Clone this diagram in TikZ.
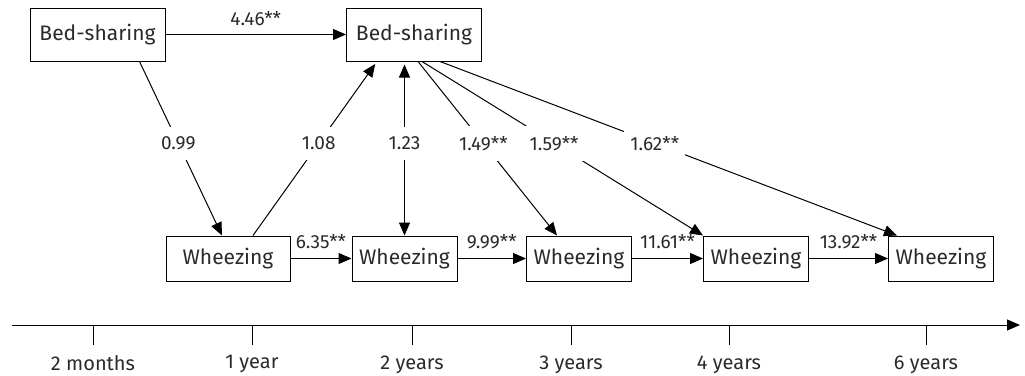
\documentclass[tikz,border=0pt]{standalone}
\usepackage{fontspec}
\setmainfont{Fira Sans}
\usetikzlibrary{arrows.meta}

\definecolor{inkgray}{HTML}{2A2A2A}

\tikzset{
    box/.style={draw, line width=1pt, inner sep=0pt, text=inkgray, font=\fontsize{21}{24}\selectfont},
    link/.style={line width=1pt, -{Triangle[length=13pt,width=11pt]}},
    coef/.style={fill=white, inner xsep=6pt, inner ysep=10pt, text=inkgray, font=\fontsize{19}{22}\selectfont},
    steplabel/.style={inner sep=1pt, text=inkgray, font=\fontsize{19}{22}\selectfont},
    agelabel/.style={inner sep=1pt, text=inkgray, font=\fontsize{20}{23}\selectfont},
}

\begin{document}
\begin{tikzpicture}[x=1pt,y=-1pt]
    \useasboundingbox (0,0) rectangle (1025,375);

    \node [box, minimum width=135pt, minimum height=53pt] (bed1) at (97.5,34.5) {Bed-sharing};
    \node [box, minimum width=135pt, minimum height=53pt] (bed2) at (414,34.5) {Bed-sharing};

    \node [box, minimum width=124pt, minimum height=45pt] (wh1) at (228,258.5) {Wheezing};
    \node [box, minimum width=105pt, minimum height=45pt] (wh2) at (404.5,258.5) {Wheezing};
    \node [box, minimum width=105pt, minimum height=45pt] (wh3) at (579,258.5) {Wheezing};
    \node [box, minimum width=105pt, minimum height=45pt] (wh4) at (756,258.5) {Wheezing};
    \node [box, minimum width=105pt, minimum height=45pt] (wh5) at (941,258.5) {Wheezing};

    \draw [link]
        (bed1)
        --
            node [steplabel, above=7pt] {4.46**}
        (bed2)
        ;

    \draw [link]
        ([xshift=42pt]bed1.south)
        --
            node [coef, pos=0.47] {0.99}
        ([xshift=-6pt]wh1.north)
        ;

    \draw [link, shorten >=3pt]
        ([xshift=25pt]wh1.north)
        --
            node [coef, pos=0.53] {1.08}
        ([xshift=-37pt]bed2.south)
        ;

    \draw [link, {Triangle[length=13pt,width=11pt]}-{Triangle[length=13pt,width=11pt]}, shorten <=3pt]
        (wh2.north |- bed2.south)
        --
            node [coef, pos=0.47] {1.23}
        (wh2.north)
        ;

    \draw [link]
        ([xshift=4pt]bed2.south)
        --
            node [coef, pos=0.47] {1.49**}
        ([xshift=-22pt]wh3.north)
        ;

    \draw [link]
        ([xshift=8pt]bed2.south)
        --
            node [coef, pos=0.47] {1.59**}
        (wh4.north west)
        ;

    \draw [link]
        ([xshift=26pt]bed2.south)
        --
            node [coef, pos=0.47] {1.62**}
        ([xshift=-44pt]wh5.north)
        ;

    \draw [link] (wh1) -- node [steplabel, above=8pt] {6.35**} (wh2);
    \draw [link] (wh2) -- node [steplabel, above=8pt] {9.99**} (wh3);
    \draw [link] (wh3) -- node [steplabel, above=8pt] {11.61**} (wh4);
    \draw [link] (wh4) -- node [steplabel, above=8pt] {13.92**} (wh5);

    \coordinate (axstart) at (12,325);
    \coordinate (axend) at (1020,325);
    \draw [link] (axstart) -- (axend);

    \foreach \x/\age in {93/2 months, 252/1 year, 412/2 years, 571/3 years, 729/4 years, 926/6 years}
        \draw [line width=1pt]
            (\x,325) -- (\x,345)
                node [agelabel, below=9pt] (age\x) {\age}
            ;
\end{tikzpicture}
\end{document}
